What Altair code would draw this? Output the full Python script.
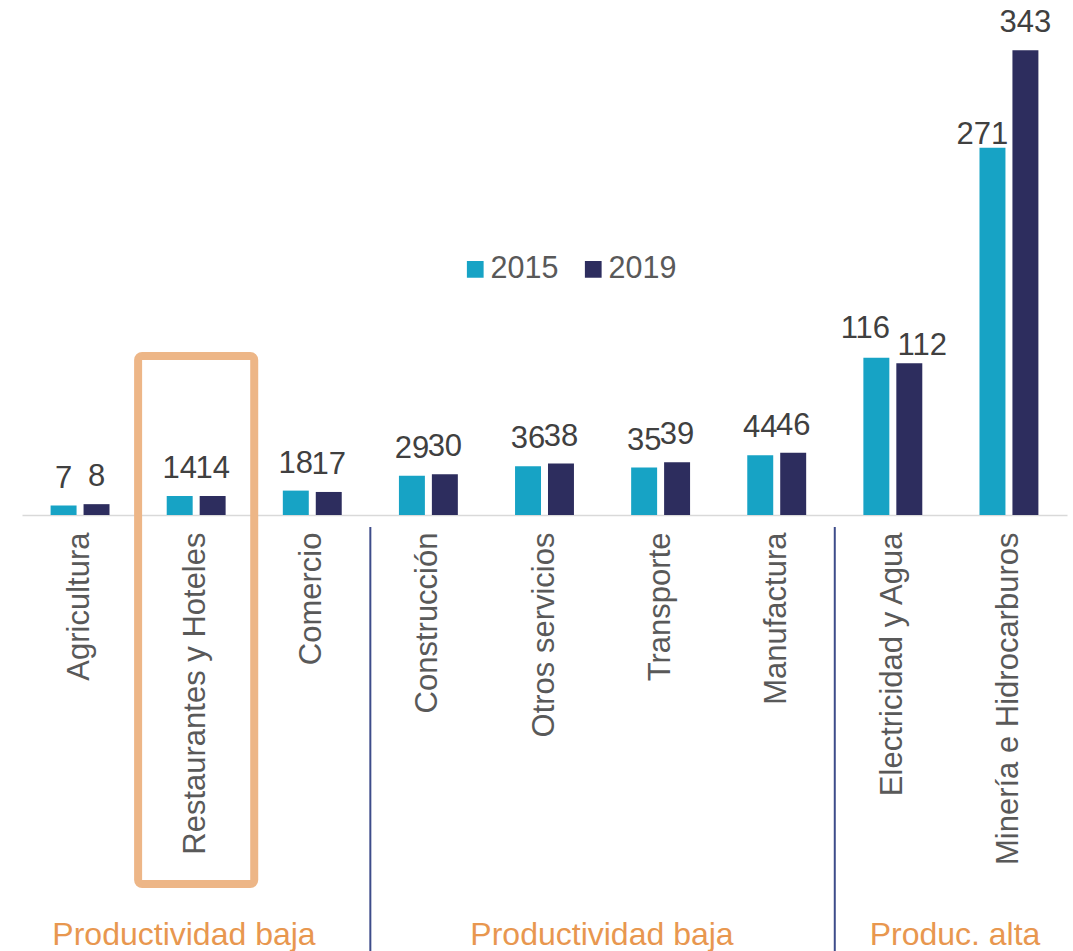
import altair as alt
import pandas as pd

categories = ["Agricultura", "Restaurantes y Hoteles", "Comercio", "Construcción",
              "Otros servicios", "Transporte", "Manufactura", "Electricidad y Agua",
              "Minería e Hidrocarburos"]
years = ["2015", "2019"]
values_2015 = [7, 14, 18, 29, 36, 35, 44, 116, 271]
values_2019 = [8, 14, 17, 30, 38, 39, 46, 112, 343]
separator_before = ["Construcción", "Electricidad y Agua"]
highlighted = ["Restaurantes y Hoteles"]
group_labels = ["Productividad baja", "Productividad baja", "Produc. alta"]

TEAL = "#17A3C5"
NAVY = "#2D2D5E"
ORANGE_TXT = "#E8974F"
ORANGE_BOX = "#EDB687"
SEP = "#3E4C8A"
FONT = "Liberation Sans"

rows = []
for c, a, b in zip(categories, values_2015, values_2019):
    rows.append({"cat": c, "year": "2015", "value": a})
    rows.append({"cat": c, "year": "2019", "value": b})
df = pd.DataFrame(rows)

xscale = alt.Scale(domain=categories, paddingInner=0, paddingOuter=0)
xaxis = alt.Axis(labelAngle=-90, labelFontSize=31, labelColor="#595959", labelPadding=17,
                 ticks=False, domainColor="#D9D9D9", domainWidth=1.5, title=None,
                 labelFont=FONT, labelLimit=500)
yscale = alt.Scale(domain=[0, 380], nice=False)
offscale = alt.Scale(domain=years, paddingInner=0.212, paddingOuter=0.868)

base = alt.Chart(df).encode(
    x=alt.X("cat:N", scale=xscale, axis=xaxis, sort=categories),
    xOffset=alt.XOffset("year:N", scale=offscale),
)

bars = base.mark_bar().encode(
    y=alt.Y("value:Q", scale=yscale, axis=None),
    color=alt.Color(
        "year:N",
        scale=alt.Scale(domain=years, range=[TEAL, NAVY]),
        legend=alt.Legend(orient="none", legendX=438, legendY=254, direction="horizontal",
                          title=None, symbolType="square", symbolSize=280,
                          symbolStrokeWidth=0, labelFontSize=30.5, labelColor="#595959",
                          labelFont=FONT, labelOffset=0, columnPadding=19, padding=0),
    ),
)


def label_layer(filter_expr, dx=0, dy=-18):
    return base.mark_text(baseline="alphabetic", dx=dx, dy=dy, fontSize=31,
                          color="#404040", font=FONT).encode(
        y=alt.Y("value:Q", scale=yscale, axis=None),
        text=alt.Text("value:Q"),
    ).transform_filter(filter_expr)


is_e15 = "datum.cat == 'Electricidad y Agua' && datum.year == '2015'"
is_e19 = "datum.cat == 'Electricidad y Agua' && datum.year == '2019'"
is_m15 = "datum.cat == 'Minería e Hidrocarburos' && datum.year == '2015'"

labels_main = label_layer(f"!({is_e15}) && !({is_e19}) && !({is_m15})")
labels_e15 = label_layer(is_e15, dx=-11, dy=-20)
labels_e19 = label_layer(is_e19, dx=13, dy=-8)
labels_m15 = label_layer(is_m15, dx=-10, dy=-4)

box = alt.Chart(pd.DataFrame({"cat": highlighted})).mark_rect(
    fill="transparent", stroke=ORANGE_BOX, strokeWidth=8, cornerRadius=4
).encode(
    x=alt.X("cat:N", scale=xscale, axis=xaxis, sort=categories),
    y=alt.value(356), y2=alt.value(884),
)

seps = alt.Chart(pd.DataFrame({"cat": separator_before})).mark_rule(
    color=SEP, strokeWidth=2
).encode(
    x=alt.X("cat:N", scale=xscale, axis=xaxis, sort=categories, bandPosition=0),
    y=alt.value(527), y2=alt.value(951),
)


def group_text(label, xpix):
    return alt.Chart(pd.DataFrame({"label": [label]})).mark_text(
        fontSize=32, color=ORANGE_TXT, font=FONT, baseline="alphabetic", align="center"
    ).encode(text="label:N", x=alt.value(xpix), y=alt.value(945))


g1 = group_text(group_labels[0], 162)
g2 = group_text(group_labels[1], 580)
g3 = group_text(group_labels[2], 933)

chart = alt.layer(bars, labels_main, labels_e15, labels_e19, labels_m15,
                  box, seps, g1, g2, g3).properties(
    width=1045, height=515,
    autosize=alt.AutoSizeParams(type="none"),
    padding={"left": 22, "top": 0, "right": 6, "bottom": 436},
).configure(font=FONT, background="white").configure_view(strokeWidth=0, stroke="transparent")

chart.save("out.html", embed_options={"renderer": "svg", "actions": False})
